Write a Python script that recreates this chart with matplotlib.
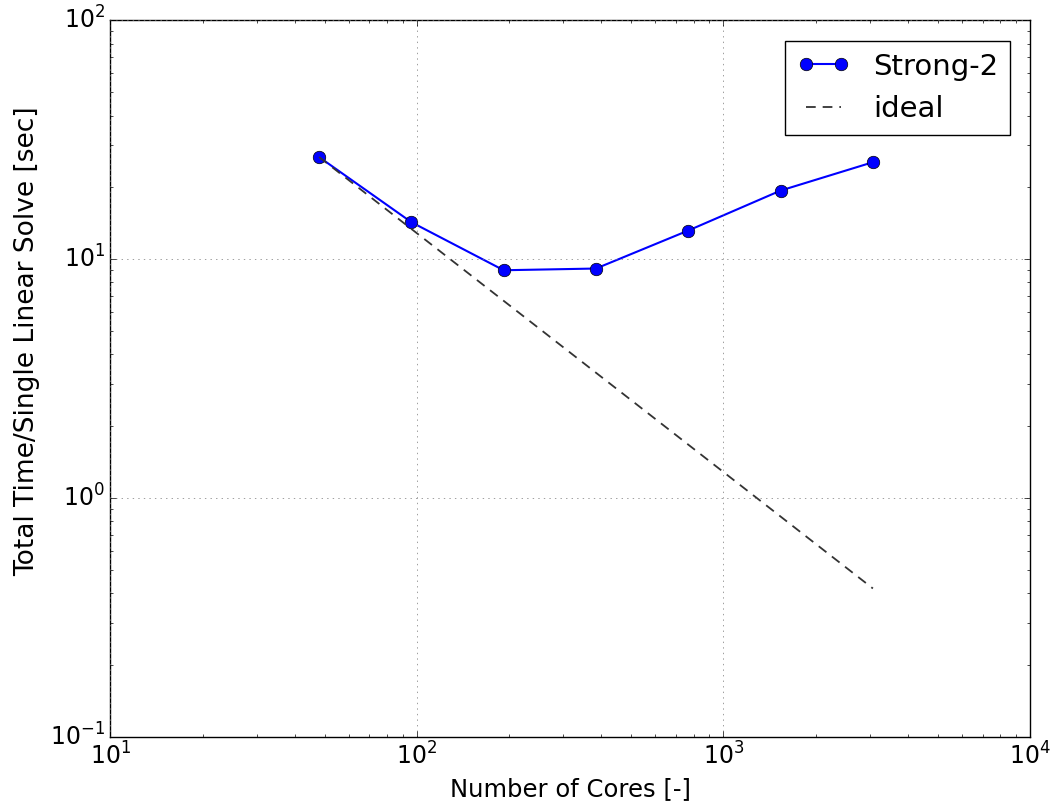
import numpy as np
import matplotlib
matplotlib.use("Agg")
import matplotlib.pyplot as plt

plt.style.use("classic")

# strong scaling run, time per linear solve
cores = [48, 96, 192, 384, 768, 1536, 3072]
times = [26.8, 14.3, 9.0, 9.15, 13.2, 19.4, 25.5]

# ideal scaling from the first point
ideal = [times[0] * cores[0] / c for c in cores]

fig = plt.figure(figsize=(10.5, 8.06), dpi=100)
fig.patch.set_facecolor("white")
ax = fig.add_axes([0.105, 0.0856, 0.876, 0.889])

ax.loglog(cores, times, "bo-", lw=1.5, ms=9, label="Strong-2")
ax.loglog(cores, ideal, "--", color="#333333", lw=1.3, dashes=(7, 5), label="ideal")

ax.set_xlim(10, 1e4)
ax.set_ylim(0.1, 100)
ax.grid(True, color="#777777")
ax.set_xlabel("Number of Cores [-]", fontsize=17.5)
ax.set_ylabel("Total Time/Single Linear Solve [sec]", fontsize=19)
ax.yaxis.set_label_coords(-0.076, 0.553)
ax.tick_params(labelsize=17)
ax.legend(loc="upper right", fontsize=21, numpoints=2, handlelength=1.8,
          borderaxespad=0.7)

fig.savefig("out.png", dpi=100, facecolor="white")
